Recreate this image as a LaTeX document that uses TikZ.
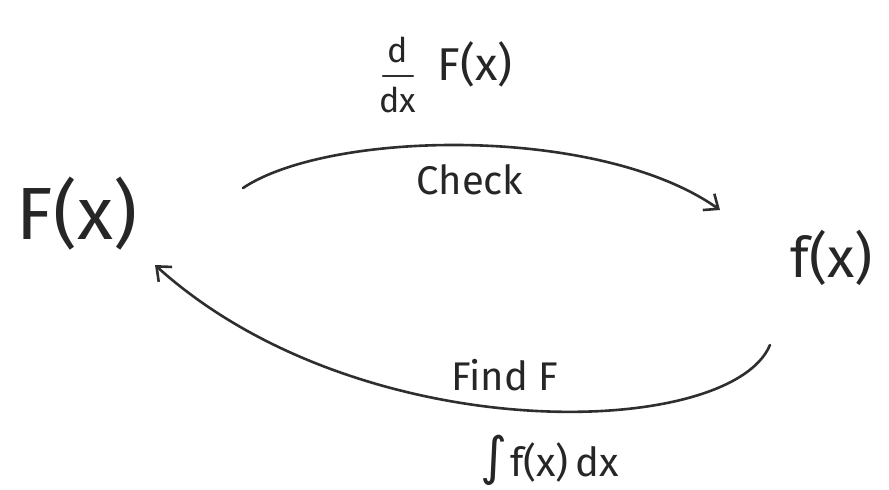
\documentclass[tikz,border=0pt]{standalone}
\usepackage{fontspec}
\setmainfont{Fira Sans}
\newfontfamily\symfont{DejaVu Sans}
\usetikzlibrary{arrows.meta}
\begin{document}
\begin{tikzpicture}[x=1pt,y=-1pt,
  ink/.style={draw=black!82,line width=2.6pt,line cap=round},
  lbl/.style={text=black!85,inner sep=0pt}]
\useasboundingbox (0,0) rectangle (889,490);
\node[lbl,font=\fontsize{74}{78}\selectfont] (F) at (77,214) {F(x)};
\node[lbl,font=\fontsize{56}{60}\selectfont] (f) at (832,258) {f(x)};
\coordinate (t1) at (243,188);
\coordinate (t2) at (720,210);
\coordinate (b1) at (770,345);
\coordinate (b2) at (155,265);
\draw[ink,-{Straight Barb[length=12pt,width=20pt]}] (t1) .. controls (330,130) and (600,125) .. (t2);
\draw[ink,-{Straight Barb[length=12pt,width=20pt]}] (b1) .. controls (730,440) and (360,450) .. (b2);
\node[lbl,font=\fontsize{34}{38}\selectfont] (dn) at (398,50) {d};
\node[lbl,font=\fontsize{34}{38}\selectfont] (dd) at (398,100) {dx};
\draw[draw=black!82,line width=2.2pt,line cap=round] (383,76) -- (413,76);
\node[lbl,font=\fontsize{46}{50}\selectfont] (dF) at (475,64) {F(x)};
\node[lbl,font=\fontsize{40}{44}\selectfont] (c) at (470,180) {Check};
\node[lbl,font=\fontsize{40}{44}\selectfont] (find) at (505,375) {Find F};
\node[lbl,font=\fontsize{52}{56}\selectfont\symfont] (intS) at (494,460) {∫};
\node[lbl,font=\fontsize{40}{44}\selectfont,anchor=west] (int) at (510,462) {f(x)\,dx};
\end{tikzpicture}
\end{document}
